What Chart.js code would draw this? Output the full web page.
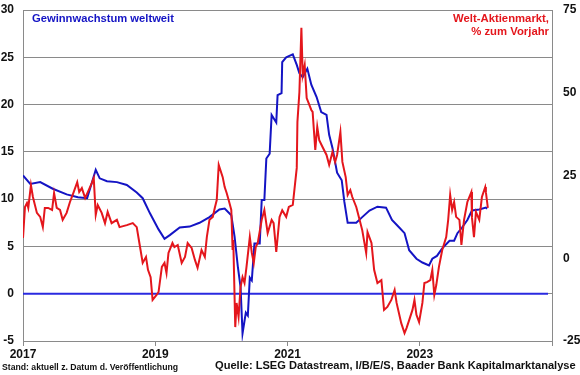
<!DOCTYPE html>
<html>
<head>
<meta charset="utf-8">
<script src="https://cdn.jsdelivr.net/npm/chart.js@4.4.1/dist/chart.umd.min.js"></script>
<style>
  html, body { margin: 0; padding: 0; background: #fff; }
  #wrap { width: 580px; height: 375px; position: relative; }
</style>
</head>
<body>
<div id="wrap"><canvas id="chart"></canvas></div>
<script>
// Gewinnwachstum weltweit (left axis, %)
const blueYears = [
  2017.00, 2017.11, 2017.26, 2017.45, 2017.66, 2017.83, 2017.97, 2018.04, 2018.10, 2018.16,
  2018.27, 2018.42, 2018.57, 2018.72, 2018.81, 2018.92, 2019.05, 2019.14, 2019.22, 2019.37,
  2019.52, 2019.67, 2019.82, 2019.97, 2020.05, 2020.15, 2020.20, 2020.25, 2020.29, 2020.32,
  2020.37, 2020.40, 2020.43, 2020.46, 2020.50, 2020.58, 2020.61, 2020.65, 2020.68, 2020.73,
  2020.76, 2020.83, 2020.85, 2020.91, 2020.92, 2020.98, 2021.08, 2021.14, 2021.18, 2021.23,
  2021.30, 2021.36, 2021.44, 2021.51, 2021.59, 2021.63, 2021.68, 2021.75, 2021.82, 2021.86,
  2021.91, 2022.04, 2022.13, 2022.24, 2022.36, 2022.49, 2022.58, 2022.69, 2022.77, 2022.84,
  2022.95, 2023.04, 2023.14, 2023.19, 2023.26, 2023.34, 2023.45, 2023.52, 2023.57, 2023.64,
  2023.72, 2023.79, 2023.90, 2024.00, 2024.02
];
const blueValues = [
  12.5, 11.6, 11.8, 11.1, 10.5, 10.2, 10.1, 11.7, 13.1, 12.2,
  11.9, 11.8, 11.5, 10.7, 10.1, 8.5, 6.8, 5.8, 6.2, 7.0,
  7.1, 7.5, 8.1, 8.9, 9.0, 8.3, 6.0, 2.8, 0.7, -4.2,
  -2.0, -2.3, 1.7, 1.4, 5.3, 5.3, 9.9, 9.9, 14.3, 14.8,
  18.9, 18.1, 21.0, 21.2, 24.5, 25.0, 25.3, 24.2, 23.3, 22.9,
  23.8, 22.1, 20.8, 19.2, 18.9, 16.8, 15.4, 12.8, 12.0, 9.7,
  7.5, 7.5, 8.1, 8.8, 9.2, 9.1, 7.8, 7.0, 6.4, 4.6,
  3.7, 3.3, 3.0, 3.7, 4.0, 4.8, 5.6, 5.6, 6.4, 7.0,
  7.8, 8.8, 8.9, 9.1, 9.0
];

// Welt-Aktienmarkt, % zum Vorjahr (right axis)
const redYears = [
  2017.00, 2017.03, 2017.06, 2017.08, 2017.12, 2017.15, 2017.21, 2017.26, 2017.30, 2017.33,
  2017.38, 2017.44, 2017.47, 2017.51, 2017.56, 2017.60, 2017.66, 2017.71, 2017.75, 2017.82,
  2017.85, 2017.89, 2017.94, 2017.98, 2018.04, 2018.07, 2018.10, 2018.13, 2018.19, 2018.24,
  2018.28, 2018.34, 2018.42, 2018.46, 2018.57, 2018.66, 2018.72, 2018.77, 2018.81, 2018.86,
  2018.89, 2018.93, 2018.96, 2019.02, 2019.05, 2019.10, 2019.14, 2019.17, 2019.20, 2019.26,
  2019.29, 2019.34, 2019.40, 2019.45, 2019.49, 2019.55, 2019.60, 2019.64, 2019.70, 2019.75,
  2019.78, 2019.82, 2019.87, 2019.90, 2019.93, 2019.96, 2020.02, 2020.05, 2020.08, 2020.11,
  2020.15, 2020.17, 2020.18, 2020.21, 2020.23, 2020.26, 2020.29, 2020.32, 2020.35, 2020.38,
  2020.43, 2020.46, 2020.49, 2020.52, 2020.55, 2020.61, 2020.65, 2020.70, 2020.76, 2020.79,
  2020.83, 2020.88, 2020.92, 2020.98, 2021.02, 2021.08, 2021.14, 2021.15, 2021.18, 2021.21,
  2021.23, 2021.26, 2021.29, 2021.32, 2021.36, 2021.38, 2021.42, 2021.45, 2021.48, 2021.53,
  2021.59, 2021.63, 2021.68, 2021.72, 2021.75, 2021.80, 2021.83, 2021.88, 2021.91, 2021.95,
  2021.98, 2022.04, 2022.09, 2022.13, 2022.19, 2022.21, 2022.27, 2022.31, 2022.36, 2022.42,
  2022.46, 2022.51, 2022.57, 2022.62, 2022.65, 2022.72, 2022.77, 2022.80, 2022.84, 2022.89,
  2022.92, 2022.95, 2022.99, 2023.04, 2023.07, 2023.11, 2023.16, 2023.19, 2023.22, 2023.25,
  2023.29, 2023.34, 2023.40, 2023.43, 2023.46, 2023.49, 2023.52, 2023.55, 2023.60, 2023.63,
  2023.67, 2023.72, 2023.78, 2023.79, 2023.82, 2023.85, 2023.90, 2023.94, 2023.99, 2024.00,
  2024.03
];
const redValues = [
  6.1, 15.5, 16.7, 15.2, 22.1, 18.5, 13.7, 12.5, 9.4, 15.2,
  15.2, 14.6, 19.7, 15.2, 14.6, 11.6, 13.7, 17.0, 19.1, 23.0,
  20.0, 21.2, 18.2, 20.0, 22.7, 24.2, 13.1, 16.1, 13.7, 10.6,
  14.0, 10.6, 11.6, 9.4, 10.0, 10.6, 9.4, 3.4, -1.4, 0.4,
  -3.5, -5.7, -12.6, -11.1, -10.2, -2.6, -1.4, -4.5, 1.6, 4.6,
  3.4, 4.0, -1.4, 0.4, 4.6, 3.1, -0.5, -2.9, 2.5, 0.4,
  6.4, 11.6, 12.5, 15.2, 17.6, 28.2, 24.5, 21.5, 19.7, 17.6,
  14.6, 2.5, 5.5, -20.8, -13.5, -17.7, -8.7, -5.7, -7.5, -2.6,
  6.4, 1.6, -1.4, 3.4, 4.6, 11.6, 14.6, 7.6, 11.6, 10.6,
  1.9, 12.5, 14.5, 12.5, 15.5, 16.1, 27.3, 41.2, 50.2, 69.6,
  55.4, 58.4, 48.4, 46.9, 44.8, 44.2, 32.7, 39.7, 35.7, 33.6,
  31.2, 28.2, 32.1, 29.1, 31.2, 38.1, 29.1, 24.5, 19.1, 20.6,
  18.5, 15.5, 11.6, 8.5, 1.6, 7.9, 4.6, -3.5, -7.5, -6.6,
  -15.6, -14.7, -12.6, -9.6, -13.5, -19.6, -22.6, -21.1, -18.7, -15.6,
  -12.6, -17.1, -19.3, -13.5, -7.5, -7.2, -6.6, -3.5, -11.1, -8.1,
  -2.6, 2.5, 6.4, 11.6, 19.1, 14.6, 17.0, 12.5, 11.6, 4.0,
  11.6, 17.0, 20.0, 12.2, 6.4, 14.0, 11.6, 18.5, 21.5, 20.0,
  15.2
];

// zero line of the left axis
const zeroYears = [2017.0, 2024.94];
const zeroValues = [0, 0];

// axes
const xTickYears = [2017, 2019, 2021, 2023];
const xMin = 2017, xMax = 2025;
const leftMin = -5, leftMax = 30, leftStep = 5;
const rightMin = -25, rightMax = 75, rightStep = 25;

const FONT = "'Liberation Sans', Arial, sans-serif";
const BLUE = "#1414c4";
const RED = "#e4161c";
const GRID = "#8a8a8a";

function toPoints(xs, ys) {
  return xs.map((x, i) => ({ x: x, y: ys[i] }));
}

// Fit bold text into a given pixel width
function fitFont(ctx, text, width) {
  ctx.font = "bold 10px " + FONT;
  const size = 10 * width / ctx.measureText(text).width;
  return "bold " + size.toFixed(2) + "px " + FONT;
}

// y axes: fixed width, no extra label padding above/below the plot
function fixAxis(width) {
  return (scale) => {
    scale.width = width;
    scale.paddingTop = 0;
    scale.paddingBottom = 0;
  };
}

const textPlugin = {
  id: "texts",
  afterDraw(chart) {
    const ctx = chart.ctx;
    ctx.save();
    ctx.textBaseline = "middle";

    ctx.fillStyle = BLUE;
    ctx.textAlign = "left";
    ctx.font = fitFont(ctx, "Gewinnwachstum weltweit", 142);
    ctx.fillText("Gewinnwachstum weltweit", 32, 19);

    ctx.fillStyle = RED;
    ctx.textAlign = "right";
    ctx.font = fitFont(ctx, "Welt-Aktienmarkt,", 96);
    ctx.fillText("Welt-Aktienmarkt,", 549, 19);
    ctx.fillText("% zum Vorjahr", 549, 32);

    ctx.fillStyle = "#111";
    ctx.textAlign = "left";
    ctx.font = fitFont(ctx, "Stand: aktuell z. Datum d. Veröffentlichung", 176);
    ctx.fillText("Stand: aktuell z. Datum d. Veröffentlichung", 2, 368);

    ctx.font = fitFont(ctx, "Quelle: LSEG Datastream, I/B/E/S, Baader Bank Kapitalmarktanalyse", 361);
    ctx.fillText("Quelle: LSEG Datastream, I/B/E/S, Baader Bank Kapitalmarktanalyse", 215, 366);
    ctx.restore();
  }
};

new Chart(document.getElementById("chart"), {
  type: "line",
  data: {
    datasets: [
      {
        label: "Welt-Aktienmarkt, % zum Vorjahr",
        data: toPoints(redYears, redValues),
        yAxisID: "y2",
        borderColor: RED,
        borderWidth: 2,
        pointRadius: 0,
        tension: 0
      },
      {
        label: "Gewinnwachstum weltweit",
        data: toPoints(blueYears, blueValues),
        yAxisID: "y",
        borderColor: BLUE,
        borderWidth: 2,
        pointRadius: 0,
        tension: 0
      },
      {
        label: "Null",
        data: toPoints(zeroYears, zeroValues),
        yAxisID: "y",
        borderColor: "#2a2ae0",
        borderWidth: 2,
        pointRadius: 0
      }
    ]
  },
  options: {
    responsive: true,
    maintainAspectRatio: false,
    animation: false,
    layout: { padding: { top: 10, left: 0, right: 0, bottom: 0 } },
    plugins: {
      legend: { display: false },
      tooltip: { enabled: false }
    },
    scales: {
      x: {
        type: "linear",
        min: xMin,
        max: xMax,
        afterBuildTicks: (scale) => {
          scale.ticks = xTickYears.concat([xMax]).map(v => ({ value: v }));
        },
        afterFit: (scale) => { scale.height = 34; },
        grid: { drawOnChartArea: false, tickLength: 5, color: GRID },
        border: { color: GRID, width: 1 },
        ticks: {
          autoSkip: false,
          maxRotation: 0,
          padding: 1,
          color: "#111",
          font: { family: FONT, size: 12, weight: "bold" },
          callback: (v) => xTickYears.includes(v) ? String(v) : ""
        }
      },
      y: {
        position: "left",
        min: leftMin,
        max: leftMax,
        afterFit: fixAxis(23),
        grid: { color: GRID, lineWidth: 1, drawTicks: false },
        border: { color: GRID, width: 1 },
        ticks: {
          stepSize: leftStep,
          padding: 9,
          color: "#111",
          font: { family: FONT, size: 12, weight: "bold" }
        }
      },
      y2: {
        position: "right",
        min: rightMin,
        max: rightMax,
        afterFit: fixAxis(28),
        grid: { drawOnChartArea: false, drawTicks: false },
        border: { color: GRID, width: 1 },
        ticks: {
          stepSize: rightStep,
          padding: 11,
          color: "#111",
          font: { family: FONT, size: 12, weight: "bold" }
        }
      }
    }
  },
  plugins: [textPlugin]
});
</script>
</body>
</html>
